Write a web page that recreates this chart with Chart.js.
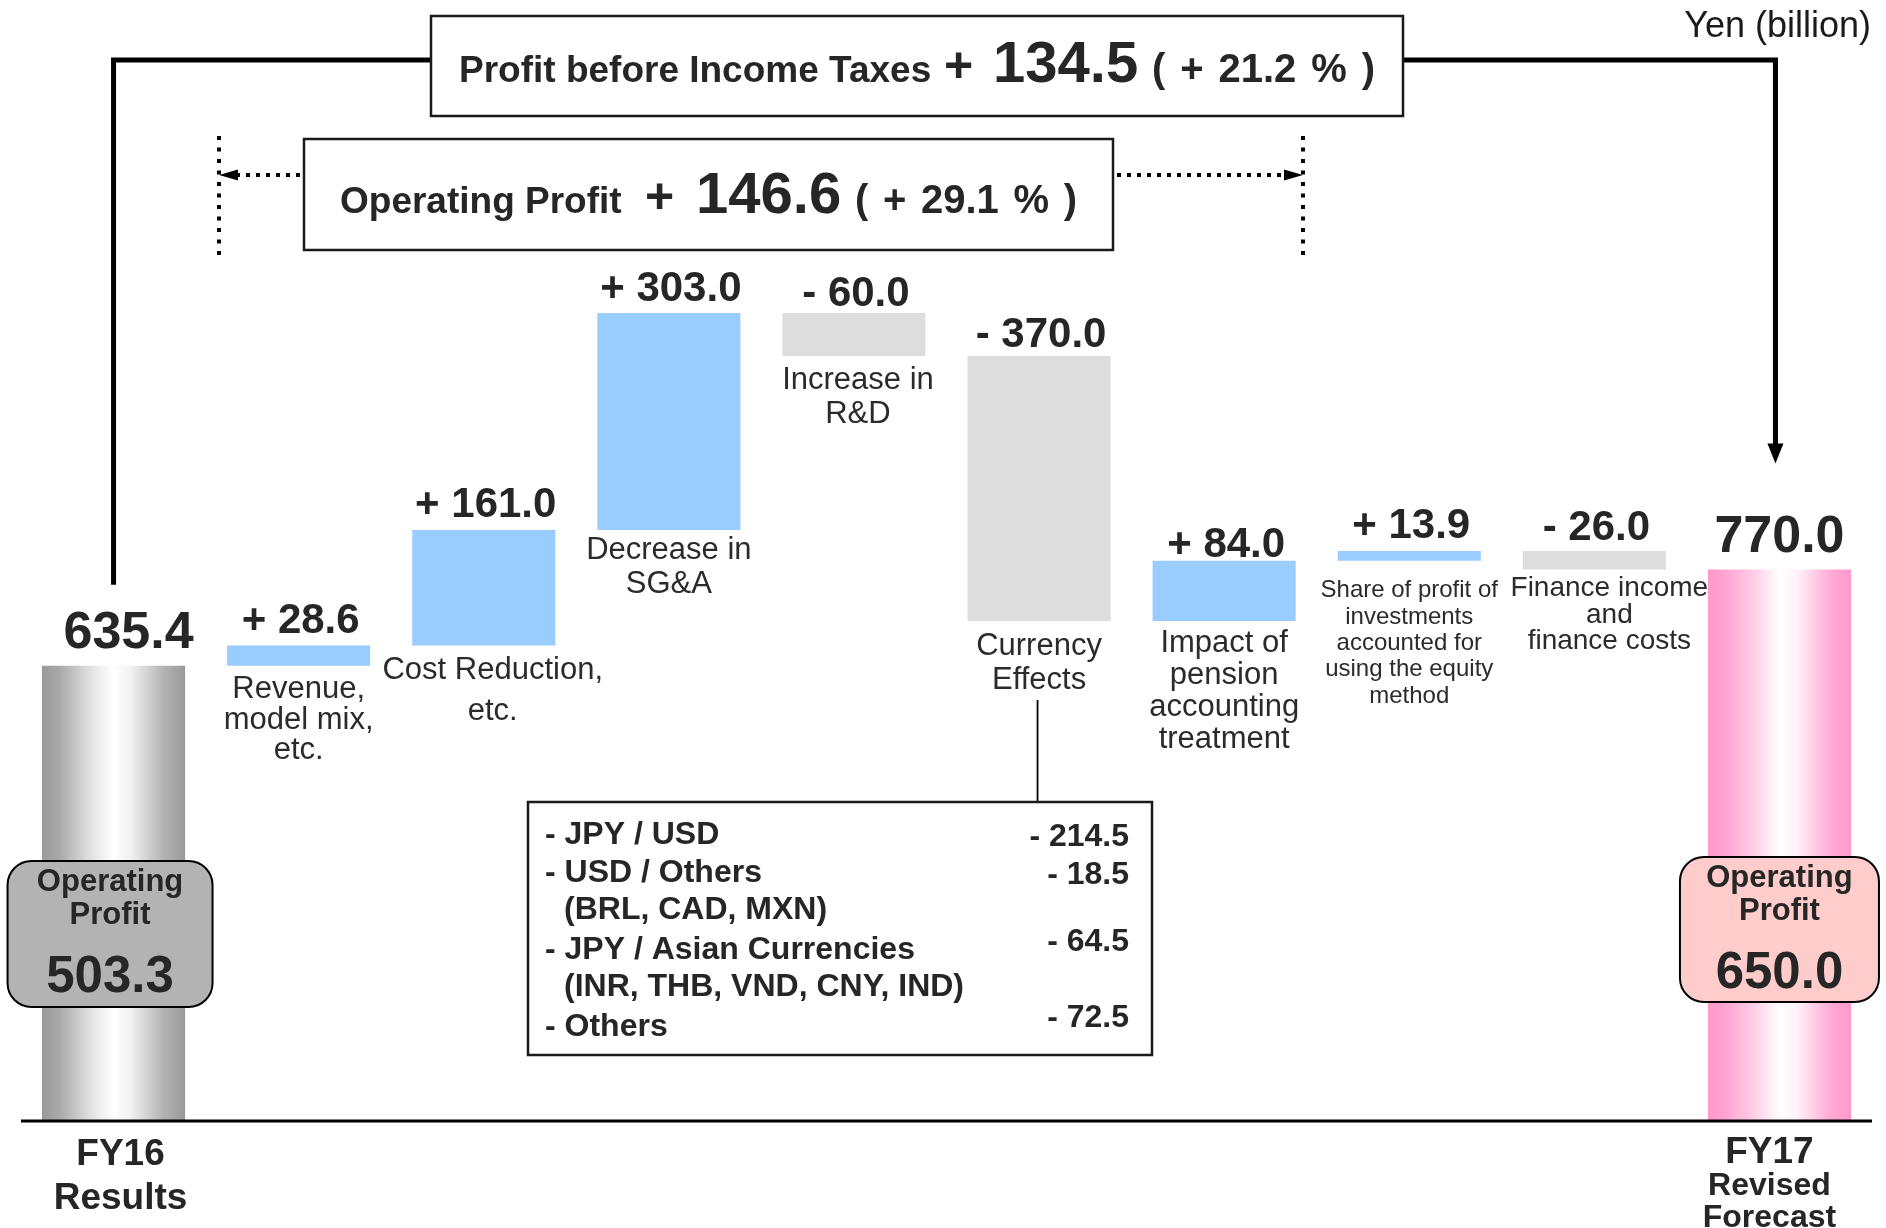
<!DOCTYPE html>
<html>
<head>
<meta charset="utf-8">
<title>Operating profit bridge FY16 - FY17</title>
<script src="https://cdn.jsdelivr.net/npm/chart.js@4.4.1/dist/chart.umd.min.js"></script>
<style>
  html, body { margin: 0; padding: 0; background: #fff; }
  #wrap { width: 1886px; height: 1228px; }
</style>
</head>
<body>
<div id="wrap"><canvas id="chart" width="1886" height="1228"></canvas></div>
<script>
// ---- Data (Yen, billion) ----
const categories = [
  'FY16 Results', 'Revenue, model mix, etc.', 'Cost Reduction, etc.', 'Decrease in SG&A',
  'Increase in R&D', 'Currency Effects', 'Impact of pension accounting treatment',
  'Share of profit of investments accounted for using the equity method',
  'Finance income and finance costs', 'FY17 Revised Forecast'
];
const startProfit = 635.4;
const changes = [28.6, 161.0, 303.0, -60.0, -370.0, 84.0, 13.9, -26.0];
const endProfit = 770.0;

const opProfitFY16 = 503.3;
const opProfitFY17 = 650.0;
const pbtChange = 134.5;
const pbtChangePct = 21.2;
const opChange = 146.6;
const opChangePct = 29.1;

const changeLabels = [
  ['Revenue,', 'model mix,', 'etc.'],
  ['Cost Reduction,', 'etc.'],
  ['Decrease in', 'SG&A'],
  ['Increase in', 'R&D'],
  ['Currency', 'Effects'],
  ['Impact of', 'pension', 'accounting', 'treatment'],
  ['Share of profit of', 'investments', 'accounted for', 'using the equity', 'method'],
  ['Finance income', 'and', 'finance costs']
];
const axisLabels = [['FY16', 'Results'], ['FY17', 'Revised', 'Forecast']];

const currencyItems = [
  ['- JPY / USD'],
  ['- USD / Others', '(BRL, CAD, MXN)'],
  ['- JPY / Asian Currencies', '(INR, THB, VND, CNY, IND)'],
  ['- Others']
];
const currencyValues = [-214.5, -18.5, -64.5, -72.5];

// ---- Styles ----
const FONT = "'Liberation Sans', Arial, sans-serif";
const TEXT = '#262626';
const POS_COLOR = '#99CCFF';
const NEG_COLOR = '#DDDDDD';
const BAR_PCT = 0.773;
const GRAY_STOPS = [[0, '#999999'], [0.12, '#a9a9a9'], [0.35, '#e4e4e4'], [0.5, '#ffffff'],
  [0.62, '#f2f2f2'], [0.85, '#b3b3b3'], [1, '#999999']];
const PINK_STOPS = [[0, '#ff99cc'], [0.1, '#ffa0d0'], [0.32, '#ffcde6'], [0.5, '#ffffff'],
  [0.62, '#fff3f9'], [0.86, '#ffaad4'], [1, '#ff99cc']];

// per-bar value label gap above bar top
const valueGap = [18, 12, 13, 12, 7, 9, 4, 13, 11, 17];
// category label layout for change bars
const labelFont = [31, 31, 31, 31, 31, 31, 24, 28];
const labelLine = [30.5, 41, 34, 34, 34, 32, 26.3, 26.5];
const labelDx = [0, 9, 0, 4, 0, 0, 0, 15];
const labelDy = [24, 25, 20, 24, 25, 22, 30, 19];

// build floating bars from the values
const fmtChange = v => (v >= 0 ? '+ ' : '- ') + Math.abs(v).toFixed(1);
const floating = [[0, startProfit]];
let running = startProfit;
changes.forEach(c => {
  floating.push([running, running + c]);
  running += c;
});
floating.push([0, endProfit]);
const lastIdx = floating.length - 1;

function cylinderFill(chart, index, stops) {
  const xs = chart.scales.x;
  const cx = xs ? xs.getPixelForValue(index) : NaN;
  const half = xs ? (xs.width / categories.length) * BAR_PCT / 2 : NaN;
  if (!isFinite(cx) || !isFinite(half) || half <= 0) return stops[0][1];
  const g = chart.ctx.createLinearGradient(cx - half, 0, cx + half, 0);
  stops.forEach(([o, c]) => g.addColorStop(o, c));
  return g;
}

function text(ctx, str, x, y, size, opts = {}) {
  ctx.font = `${opts.bold ? 'bold ' : ''}${size}px ${FONT}`;
  ctx.fillStyle = opts.color || TEXT;
  ctx.textAlign = opts.align || 'center';
  ctx.textBaseline = opts.baseline || 'middle';
  ctx.fillText(str, x, y);
}

// spread tokens evenly between x0 and x1
function spread(ctx, tokens, x0, x1, y, size) {
  ctx.font = `bold ${size}px ${FONT}`;
  const widths = tokens.map(t => ctx.measureText(t).width);
  const total = widths.reduce((a, b) => a + b, 0);
  const gap = (x1 - x0 - total) / (tokens.length - 1);
  let x = x0;
  tokens.forEach((t, i) => {
    text(ctx, t, x, y, size, { bold: true, align: 'left', baseline: 'alphabetic' });
    x += widths[i] + gap;
  });
}

function arrowHead(ctx, tipX, tipY, dir, len, half) {
  ctx.beginPath();
  if (dir === 'down') {
    ctx.moveTo(tipX, tipY);
    ctx.lineTo(tipX - half, tipY - len);
    ctx.lineTo(tipX + half, tipY - len);
  } else {
    const s = dir === 'left' ? 1 : -1;
    ctx.moveTo(tipX, tipY);
    ctx.lineTo(tipX + s * len, tipY - half);
    ctx.lineTo(tipX + s * len, tipY + half);
  }
  ctx.closePath();
  ctx.fill();
}

const bridgeAnnotations = {
  id: 'bridgeAnnotations',
  afterDatasetsDraw(chart) {
    const ctx = chart.ctx;
    const area = chart.chartArea;
    const ys = chart.scales.y;
    const bars = chart.getDatasetMeta(0).data;
    const top = i => Math.min(bars[i].y, bars[i].base);
    const bottom = i => Math.max(bars[i].y, bars[i].base);
    ctx.save();

    // baseline
    const y0 = ys.getPixelForValue(0);
    ctx.strokeStyle = '#000';
    ctx.lineWidth = 3;
    ctx.beginPath();
    ctx.moveTo(area.left, y0);
    ctx.lineTo(area.right, y0);
    ctx.stroke();

    // value labels
    bars.forEach((b, i) => {
      if (i === 0) {
        text(ctx, startProfit.toFixed(1), b.x + 15, top(i) - valueGap[i], 52, { bold: true, baseline: 'alphabetic' });
      } else if (i === lastIdx) {
        text(ctx, endProfit.toFixed(1), b.x, top(i) - valueGap[i], 52, { bold: true, baseline: 'alphabetic' });
      } else {
        text(ctx, fmtChange(changes[i - 1]), b.x + 2, top(i) - valueGap[i], 42, { bold: true, baseline: 'alphabetic' });
      }
    });

    // category labels under change bars
    changeLabels.forEach((lines, k) => {
      const i = k + 1;
      lines.forEach((ln, j) => {
        text(ctx, ln, bars[i].x + labelDx[k], bottom(i) + labelDy[k] + j * labelLine[k], labelFont[k], { color: '#2b2b2b' });
      });
    });

    // operating profit badges on the end columns
    const badge = (cx, by, w, h, fill, value) => {
      ctx.beginPath();
      ctx.roundRect(cx - w / 2, by, w, h, 24);
      ctx.fillStyle = fill;
      ctx.fill();
      ctx.lineWidth = 2;
      ctx.strokeStyle = '#000';
      ctx.stroke();
      text(ctx, 'Operating', cx, by + 21, 31, { bold: true });
      text(ctx, 'Profit', cx, by + 54, 31, { bold: true });
      text(ctx, value.toFixed(1), cx, by + 117, 51, { bold: true });
    };
    badge(bars[0].x - 3.5, 861, 205, 146, '#B3B3B3', opProfitFY16);
    badge(bars[lastIdx].x, 857, 199, 145, '#FFCCCC', opProfitFY17);

    // axis labels
    text(ctx, axisLabels[0][0], bars[0].x + 7, 1155, 37, { bold: true });
    text(ctx, axisLabels[0][1], bars[0].x + 7, 1199, 37, { bold: true });
    text(ctx, axisLabels[1][0], bars[lastIdx].x - 10, 1153, 37, { bold: true });
    text(ctx, axisLabels[1][1], bars[lastIdx].x - 10, 1186, 32, { bold: true });
    text(ctx, axisLabels[1][2], bars[lastIdx].x - 10, 1218, 32, { bold: true });

    // unit
    text(ctx, 'Yen (billion)', 1871, 37, 36, { align: 'right', baseline: 'alphabetic', color: '#1a1a1a' });

    // profit before income taxes connector
    const xL = bars[0].x, xR = bars[lastIdx].x - 4;
    ctx.strokeStyle = '#000';
    ctx.fillStyle = '#000';
    ctx.lineWidth = 5;
    ctx.lineJoin = 'miter';
    ctx.beginPath();
    ctx.moveTo(xL, top(0) - 81);
    ctx.lineTo(xL, 60);
    ctx.lineTo(431, 60);
    ctx.moveTo(1403, 60);
    ctx.lineTo(xR, 60);
    ctx.lineTo(xR, top(lastIdx) - 118);
    ctx.stroke();
    arrowHead(ctx, xR, top(lastIdx) - 106, 'down', 20, 8);

    // top box
    ctx.lineWidth = 2.5;
    ctx.strokeStyle = '#1a1a1a';
    ctx.fillStyle = '#fff';
    ctx.fillRect(431, 16, 972, 100);
    ctx.strokeRect(431, 16, 972, 100);
    text(ctx, 'Profit before Income Taxes', 459, 82, 37, { bold: true, align: 'left', baseline: 'alphabetic' });
    text(ctx, pbtChange >= 0 ? '+' : '-', 944, 82, 50, { bold: true, align: 'left', baseline: 'alphabetic' });
    text(ctx, Math.abs(pbtChange).toFixed(1), 993, 82, 58, { bold: true, align: 'left', baseline: 'alphabetic' });
    spread(ctx, ['(', pbtChangePct >= 0 ? '+' : '-', Math.abs(pbtChangePct).toFixed(1), '%', ')'], 1152, 1375, 82, 40);

    // operating profit box
    ctx.fillStyle = '#fff';
    ctx.strokeStyle = '#1a1a1a';
    ctx.fillRect(304, 139, 809, 111);
    ctx.strokeRect(304, 139, 809, 111);
    text(ctx, 'Operating Profit', 340, 213, 37, { bold: true, align: 'left', baseline: 'alphabetic' });
    text(ctx, opChange >= 0 ? '+' : '-', 645, 213, 50, { bold: true, align: 'left', baseline: 'alphabetic' });
    text(ctx, Math.abs(opChange).toFixed(1), 696, 213, 58, { bold: true, align: 'left', baseline: 'alphabetic' });
    spread(ctx, ['(', opChangePct >= 0 ? '+' : '-', Math.abs(opChangePct).toFixed(1), '%', ')'], 855, 1077, 213, 40);

    // dotted bracket for operating profit
    ctx.strokeStyle = '#000';
    ctx.fillStyle = '#000';
    ctx.lineWidth = 4;
    ctx.setLineDash([4, 7.5]);
    ctx.beginPath();
    ctx.moveTo(219, 136); ctx.lineTo(219, 260);
    ctx.moveTo(1303, 136); ctx.lineTo(1303, 260);
    ctx.stroke();
    ctx.setLineDash([4, 6]);
    ctx.beginPath();
    ctx.moveTo(300, 175); ctx.lineTo(236, 175);
    ctx.moveTo(1117, 175); ctx.lineTo(1284, 175);
    ctx.stroke();
    ctx.setLineDash([]);
    arrowHead(ctx, 219, 175, 'left', 19, 5.5);
    arrowHead(ctx, 1303, 175, 'right', 19, 5.5);

    // currency breakdown
    const xc = bars[5].x - 1.5;
    ctx.lineWidth = 1.8;
    ctx.beginPath();
    ctx.moveTo(xc, 700);
    ctx.lineTo(xc, 802);
    ctx.stroke();
    ctx.lineWidth = 2.5;
    ctx.strokeStyle = '#1a1a1a';
    ctx.strokeRect(528, 802, 624, 253);
    const itemY = [835, 873, 950, 1027];
    const valueY = [837, 875, 942, 1018];
    currencyItems.forEach((lines, i) => {
      text(ctx, lines[0], 545, itemY[i], 32, { bold: true, align: 'left' });
      if (lines[1]) text(ctx, lines[1], 564, itemY[i] + 37, 32, { bold: true, align: 'left' });
      text(ctx, fmtChange(currencyValues[i]), 1129, valueY[i], 32, { bold: true, align: 'right' });
    });

    ctx.restore();
  }
};

new Chart(document.getElementById('chart'), {
  type: 'bar',
  data: {
    labels: categories,
    datasets: [{
      data: floating,
      borderWidth: 0,
      barPercentage: BAR_PCT,
      categoryPercentage: 1,
      backgroundColor: c => {
        if (c.dataIndex === 0) return cylinderFill(c.chart, 0, GRAY_STOPS);
        if (c.dataIndex === lastIdx) return cylinderFill(c.chart, lastIdx, PINK_STOPS);
        return changes[c.dataIndex - 1] >= 0 ? POS_COLOR : NEG_COLOR;
      }
    }]
  },
  options: {
    responsive: false,
    animation: false,
    devicePixelRatio: 1,
    layout: { padding: { left: 21, right: 14, top: 0, bottom: 107 } },
    plugins: { legend: { display: false }, tooltip: { enabled: false } },
    scales: {
      x: { display: false },
      y: { display: false, min: 0, max: 1565 }
    }
  },
  plugins: [bridgeAnnotations]
});
</script>
</body>
</html>
